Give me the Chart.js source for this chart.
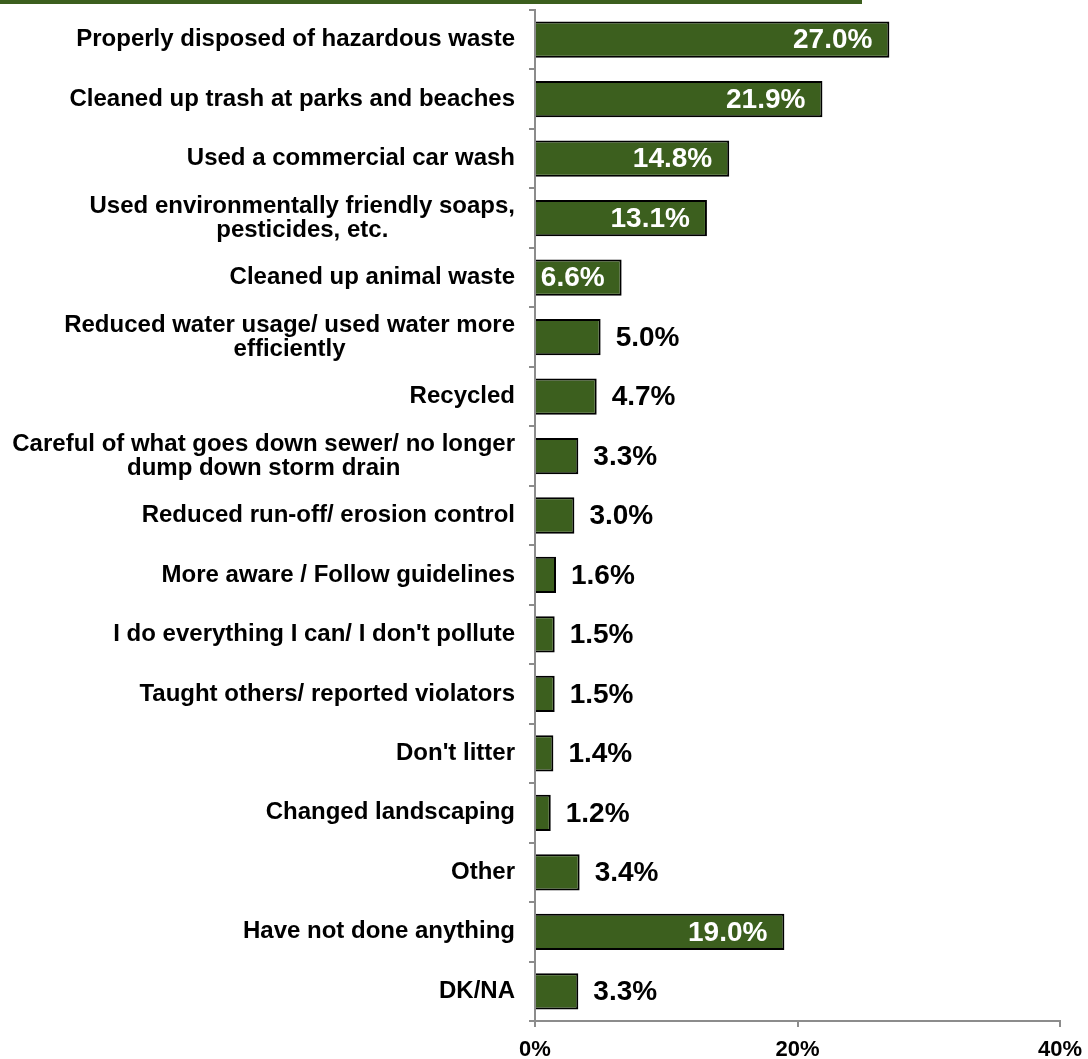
<!DOCTYPE html>
<html>
<head>
<meta charset="utf-8">
<script src="https://cdn.jsdelivr.net/npm/chart.js@4/dist/chart.umd.min.js"></script>
<style>
  html, body { margin: 0; padding: 0; background: #fff; }
  #wrap { width: 1088px; height: 1059px; position: relative; }
</style>
</head>
<body>
<div id="wrap"><canvas id="grafica"></canvas></div>
<script>
// Actions taken (share of respondents)
const categorias = [
  ["Properly disposed of hazardous waste"],
  ["Cleaned up trash at parks and beaches"],
  ["Used a commercial car wash"],
  ["Used environmentally friendly soaps,", "pesticides, etc."],
  ["Cleaned up animal waste"],
  ["Reduced water usage/ used water more", "efficiently"],
  ["Recycled"],
  ["Careful of what goes down sewer/ no longer", "dump down storm drain"],
  ["Reduced run-off/ erosion control"],
  ["More aware / Follow guidelines"],
  ["I do everything I can/ I don't pollute"],
  ["Taught others/ reported violators"],
  ["Don't litter"],
  ["Changed landscaping"],
  ["Other"],
  ["Have not done anything"],
  ["DK/NA"]
];
const valores = [27.0, 21.9, 14.8, 13.1, 6.6, 5.0, 4.7, 3.3, 3.0, 1.6, 1.5, 1.5, 1.4, 1.2, 3.4, 19.0, 3.3];
const ticksX = [0, 20, 40];

const VERDE = "#3c5f1e";
const GRIS = "#8c8c8c";
const FUENTE = "'Liberation Sans', Arial, sans-serif";

// Línea verde superior + etiquetas de categoría y de valor
const decoracion = {
  id: "decoracion",
  beforeDraw(chart) {
    const c = chart.ctx;
    c.save();
    c.fillStyle = VERDE;
    c.fillRect(0, 0, 862, 4);
    c.restore();
  },
  afterDraw(chart) {
    const c = chart.ctx;
    const y = chart.scales.y;
    const x = chart.scales.x;
    const meta = chart.getDatasetMeta(0);
    c.save();

    // etiquetas de categoría: bloque alineado a la derecha, líneas centradas
    c.font = "bold 24px " + FUENTE;
    c.fillStyle = "#000";
    c.textBaseline = "middle";
    c.textAlign = "center";
    const derecha = x.left - 20;
    const alto = 24;
    categorias.forEach((lineas, i) => {
      const cy = y.getPixelForValue(i);
      const ancho = Math.max(...lineas.map(l => c.measureText(l).width));
      const cx = derecha - ancho / 2;
      const y0 = cy - (lineas.length - 1) * alto / 2;
      lineas.forEach((l, k) => c.fillText(l, cx, y0 + k * alto));
    });

    // etiquetas de valor
    c.font = "bold 28px " + FUENTE;
    meta.data.forEach((bar, i) => {
      const v = valores[i];
      const texto = v.toFixed(1) + "%";
      if (v >= 6) {
        c.fillStyle = "#fff";
        c.textAlign = "right";
        c.fillText(texto, bar.x - 17, bar.y + 1);
      } else {
        c.fillStyle = "#000";
        c.textAlign = "left";
        c.fillText(texto, bar.x + 15, bar.y + 1);
      }
    });
    c.restore();
  }
};

new Chart(document.getElementById("grafica"), {
  type: "bar",
  data: {
    labels: categorias.map(l => l.join(" ")),
    datasets: [{
      data: valores,
      backgroundColor: VERDE,
      borderColor: "#000",
      borderWidth: 2,
      borderSkipped: "left",
      categoryPercentage: 1,
      barPercentage: 0.61
    }]
  },
  options: {
    indexAxis: "y",
    responsive: true,
    maintainAspectRatio: false,
    animation: false,
    layout: { padding: { top: 10, right: 28, bottom: 0, left: 0 } },
    plugins: { legend: { display: false }, tooltip: { enabled: false } },
    scales: {
      x: {
        min: 0,
        max: 40,
        afterBuildTicks: s => { s.ticks = ticksX.map(v => ({ value: v })); },
        afterFit: s => { s.height = 38; s.paddingRight = 0; },
        border: { color: GRIS, width: 2 },
        grid: { drawOnChartArea: false, color: GRIS, lineWidth: 2, tickLength: 6 },
        ticks: {
          color: "#000",
          padding: 10,
          font: { family: FUENTE, size: 22, weight: "bold" },
          callback: v => v + "%"
        }
      },
      y: {
        afterFit: s => { s.width = 535; },
        border: { color: GRIS, width: 2 },
        grid: { drawOnChartArea: false, color: GRIS, lineWidth: 2, tickLength: 6, offset: true },
        ticks: { display: false }
      }
    }
  },
  plugins: [decoracion]
});
</script>
</body>
</html>
